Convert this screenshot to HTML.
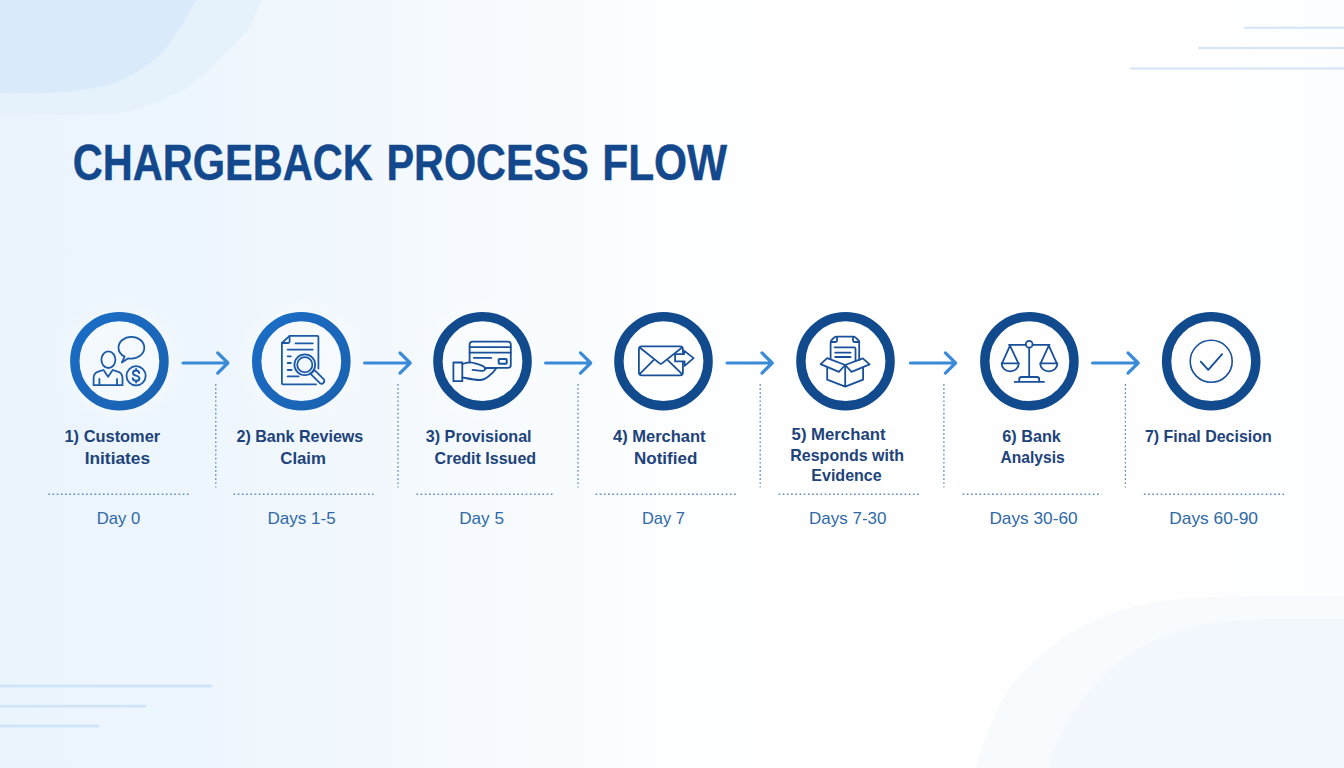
<!DOCTYPE html>
<html lang="en">
<head>
<meta charset="utf-8">
<title>Chargeback Process Flow</title>
<style>
html,body{margin:0;padding:0;width:1344px;height:768px;overflow:hidden;background:#f6fafe;}
svg{display:block;position:absolute;left:0;top:0;}
text{font-family:"Liberation Sans",sans-serif;}
.t{font-weight:bold;fill:#13488c;font-size:49.6px;stroke:#13488c;stroke-width:0.4;}
.l{font-weight:bold;fill:#1d437a;font-size:17px;}
.d{fill:#2f69a6;font-size:17px;}
.ic{fill:none;stroke:#1d5aa6;stroke-width:1.8;stroke-linecap:round;stroke-linejoin:round;}
.dot{stroke:#628fc0;stroke-width:1.4;stroke-dasharray:1.7 2.5;fill:none;}
.vdot{stroke:#5f87b6;stroke-width:1.3;stroke-dasharray:1.7 2.4;}
.ar{fill:none;stroke:#3b8ad8;stroke-width:3.2;stroke-linecap:round;stroke-linejoin:round;}
</style>
</head>
<body>
<svg width="1344" height="768" viewBox="0 0 1344 768">
<defs>
<linearGradient id="bg" x1="0" y1="0" x2="1" y2="0">
<stop offset="0" stop-color="#eaf4fd"/>
<stop offset="0.22" stop-color="#f0f7fd"/>
<stop offset="0.47" stop-color="#fbfdff"/>
<stop offset="0.58" stop-color="#ffffff"/>
<stop offset="0.9" stop-color="#fefeff"/>
<stop offset="1" stop-color="#fbfdff"/>
</linearGradient>
<linearGradient id="r1" x1="0" y1="0" x2="1" y2="1">
<stop offset="0" stop-color="#1b6dc6"/>
<stop offset="1" stop-color="#1a62b0"/>
</linearGradient>
<radialGradient id="glow">
<stop offset="0" stop-color="#ffffff" stop-opacity="0.45"/>
<stop offset="0.6" stop-color="#ffffff" stop-opacity="0.4"/>
<stop offset="1" stop-color="#ffffff" stop-opacity="0"/>
</radialGradient>
</defs>
<!-- BACKGROUND -->
<rect id="bgrect" width="1344" height="768" fill="url(#bg)"/>
<g id="decor">
<!-- top-left blobs -->
<path d="M0,116 C14.8,115.8 66.7,115.6 89,114.6 C111.3,113.6 118.1,114.2 134,110 C149.9,105.8 170.2,97.7 184.5,89.3 C198.8,80.9 209.6,69.4 220,59.5 C230.4,49.6 240.0,39.7 247,29.8 C254.0,19.9 259.5,5.0 262,0 L0,0 Z" fill="#e5f1fb"/>
<path d="M0,92.9 C9.9,92.8 40.7,93.9 59.5,92.3 C78.3,90.7 97.1,88.8 113,83.3 C128.9,77.8 143.9,68.4 154.8,59.5 C165.7,50.6 171.7,39.7 178.6,29.8 C185.5,19.9 193.1,5.0 196,0 L0,0 Z" fill="#d9ebfa"/>
<!-- bottom-right blobs -->
<path d="M1344,596 C1330.5,596.0 1293.0,595.2 1263,596 C1233.0,596.8 1191.5,597.2 1164,601 C1136.5,604.8 1117.2,611.0 1098,619 C1078.8,627.0 1063.8,637.3 1049,649 C1034.2,660.7 1020.0,673.0 1009,689 C998.0,705.0 988.5,731.8 983,745 C977.5,758.2 977.2,764.2 976,768 L1344,768 Z" fill="#f7fbfe"/>
<path d="M1344,619 C1325.0,619.3 1260.0,618.2 1230,621 C1200.0,623.8 1183.2,628.7 1164,636 C1144.8,643.3 1129.3,653.5 1115,665 C1100.7,676.5 1088.0,691.7 1078,705 C1068.0,718.3 1059.8,734.5 1055,745 C1050.2,755.5 1050.0,764.2 1049,768 L1344,768 Z" fill="#f2f8fe"/>
<!-- top-right lines -->
<g stroke="#d2e4f5" stroke-width="2" stroke-linecap="round">
<line x1="1245" y1="27.8" x2="1344" y2="27.8"/>
<line x1="1199" y1="48.1" x2="1344" y2="48.1"/>
<line x1="1131" y1="68.5" x2="1344" y2="68.5"/>
</g>
<!-- bottom-left lines -->
<g stroke="#d0e6f8" stroke-width="2.8" stroke-linecap="round">
<line x1="0" y1="686" x2="211" y2="686"/>
<line x1="0" y1="706.1" x2="145" y2="706.1"/>
<line x1="0" y1="726" x2="98" y2="726"/>
</g>
</g>
<g id="glows">
<circle cx="119.4" cy="361.2" r="66" fill="url(#glow)"/>
<circle cx="301.3" cy="361.2" r="66" fill="url(#glow)"/>
<circle cx="482.5" cy="361.2" r="66" fill="url(#glow)"/>
<circle cx="663.5" cy="361.2" r="66" fill="url(#glow)"/>
<circle cx="845.5" cy="361.2" r="66" fill="url(#glow)"/>
<circle cx="1029.4" cy="361.2" r="66" fill="url(#glow)"/>
<circle cx="1211.2" cy="361.2" r="66" fill="url(#glow)"/>
</g>
<g id="title">
<text class="t" x="72.8" y="179.8" textLength="300" lengthAdjust="spacingAndGlyphs">CHARGEBACK</text>
<text class="t" x="386.4" y="179.8" textLength="202.4" lengthAdjust="spacingAndGlyphs">PROCESS</text>
<text class="t" x="602.2" y="179.8" textLength="125" lengthAdjust="spacingAndGlyphs">FLOW</text>
</g>
<g id="rings" fill="none" stroke-width="9.4">
<circle cx="119.4" cy="361.2" r="44.6" stroke="url(#r1)"/>
<circle cx="301.3" cy="361.2" r="44.6" stroke="url(#r1)"/>
<circle cx="482.5" cy="361.2" r="44.6" stroke="#114a8d"/>
<circle cx="663.5" cy="361.2" r="44.6" stroke="#114a8d"/>
<circle cx="845.5" cy="361.2" r="44.6" stroke="#114a8d"/>
<circle cx="1029.4" cy="361.2" r="44.6" stroke="#114a8d"/>
<circle cx="1211.2" cy="361.2" r="44.6" stroke="#114a8d"/>
</g>
<g id="arrows" class="ar">
<path d="M183.0,363 H227.7 M217.7,352.9 L227.9,363 L217.7,373.1"/>
<path d="M364.6,363 H410.0 M400.0,352.9 L410.2,363 L400.0,373.1"/>
<path d="M545.6,363 H590.5 M580.5,352.9 L590.7,363 L580.5,373.1"/>
<path d="M727.1,363 H772.0 M762.0,352.9 L772.2,363 L762.0,373.1"/>
<path d="M910.4,363 H955.4 M945.4,352.9 L955.6,363 L945.4,373.1"/>
<path d="M1092.6,363 H1138.0 M1128.0,352.9 L1138.2,363 L1128.0,373.1"/>
</g>
<g id="dots" class="dot">
<line class="vdot" x1="215.8" y1="384" x2="215.8" y2="487.5"/>
<line class="vdot" x1="398" y1="384" x2="398" y2="487.5"/>
<line class="vdot" x1="578" y1="384" x2="578" y2="487.5"/>
<line class="vdot" x1="760.2" y1="384" x2="760.2" y2="487.5"/>
<line class="vdot" x1="943.9" y1="384" x2="943.9" y2="487.5"/>
<line class="vdot" x1="1125.4" y1="384" x2="1125.4" y2="487.5"/>
<line x1="48.3" y1="494.2" x2="191" y2="494.2"/>
<line x1="233.5" y1="494.2" x2="373.5" y2="494.2"/>
<line x1="416.4" y1="494.2" x2="553.6" y2="494.2"/>
<line x1="595.5" y1="494.2" x2="736" y2="494.2"/>
<line x1="778.5" y1="494.2" x2="919.1" y2="494.2"/>
<line x1="962.6" y1="494.2" x2="1101.4" y2="494.2"/>
<line x1="1143.9" y1="494.2" x2="1284" y2="494.2"/>
</g>
<g id="icons" class="ic">
<!-- 1: customer + speech + dollar -->
<g id="ic1">
<ellipse cx="108.4" cy="359.7" rx="7" ry="8.3"/>
<path d="M93.6,385.2 V378 C93.6,374 96,372.2 99,371.4 L103.5,370 L108.1,376.8 L112.7,370 L117,371.4 C120,372.2 122.5,374 122.5,378 V385.2 Z"/>
<path d="M99.4,379 V385.2 M117,379 V385.2"/>
<path d="M124.6,356.6 C120.6,354.6 118.5,351.4 118.5,347.7 C118.5,341.7 124.3,336.8 131.4,336.8 C138.5,336.8 144.3,341.7 144.3,347.7 C144.3,353.7 138.5,358.6 131.4,358.6 C130.3,358.6 129.3,358.5 128.3,358.3 L121.8,362.6 Z"/>
<circle cx="136.1" cy="375.8" r="9.6"/>
</g>
<!-- 2: document + magnifier -->
<g id="ic2">
<path d="M318.4,368.6 V337 Q318.4,335.9 317.3,335.9 H289.6 L281.9,343 V383.3 Q281.9,384.4 283,384.4 H316"/>
<path d="M289.6,335.9 V341.5 Q289.6,343 288.1,343 H281.9"/>
<path d="M295.5,343.4 H312.7 M287.7,349.7 H312.7 M287.7,356.3 H290.8 M287.7,363 H290.8 M287.7,370 H291.6 M287.7,376.4 H298.6"/>
<circle cx="304.8" cy="364.8" r="10.4" fill="#f3f8fd"/>
<circle cx="304.8" cy="364.8" r="7.6"/>
<path d="M312.6,372 L314.6,370.1 L323.9,379.4 Q325,381.4 323.4,383 Q321.8,384.4 319.9,383.2 L310.6,373.9 Z" fill="#f3f8fd"/>
</g>
<!-- 3: hand + card -->
<g id="ic3" stroke="#19509a">
<path d="M469.6,362.6 V344.6 Q469.6,341.6 472.6,341.6 H507.8 Q510.8,341.6 510.8,344.6 V364.9 Q510.8,367.9 507.8,367.9 H486"/>
<path d="M469.6,347.1 H510.8 M469.6,352.6 H510.8 M473.9,357.9 H491.3"/>
<rect x="498.7" y="359" width="8" height="4.8" rx="0.8" stroke-width="2"/>
<rect x="453.4" y="362.5" width="8.9" height="18.7"/>
<path d="M462.4,364 C465,362.9 468,362.1 470.5,362.4 C474,362.9 478,364.2 481.3,365.3 C484,366.2 485.3,367.4 485.1,368.8 C484.8,370.5 483.5,371 481.5,370.8 L472.5,369.8"/>
<path d="M485,368.7 C486,368.3 487,368.2 488,368.2 H496.3 C494,371.5 492,373.6 489,376 C486,378.5 483.5,380 480,380 C474,380 468,378.5 462.4,377.4"/>
</g>
<!-- 4: envelope + arrow -->
<g id="ic4" stroke="#19509a">
<rect x="638.9" y="346.4" width="44" height="29" rx="2.8"/>
<path d="M640,347.7 L659.6,363.4 Q660.8,364.4 662,363.4 L681.8,347.7"/>
<path d="M640.1,373.6 L653.6,360.2 M681.6,373.6 L668,360.4"/>
<path d="M675.1,354.2 H684 V350.6 L693.6,358.1 L684.6,365.9 V361.4 H675.1 Z" fill="#fdfeff"/>
</g>
<!-- 5: box + document -->
<g id="ic5" stroke="#19509a">
<path d="M830.6,359.2 V342.8 Q830.8,340.6 832.4,339.2 L834.4,337.4 Q835.4,336.6 836.8,336.6 H853.2 Q854.4,336.6 855.4,337.4 L859.2,341.2 V360"/>
<path d="M837,336.8 V340.6 Q837,342 835.6,342 H831.4 M853,336.8 V340.6 Q853,342 854.4,342 H858.8"/>
<path d="M834.6,347.4 H854 Q855.5,347.4 855.5,348.9 V361.2"/>
<path d="M835.2,352.6 H850.6 M835.2,357 H850.6"/>
<path d="M820.6,364.1 L827.2,358.1 L845.2,365 L838.9,371.9 Z"/>
<path d="M845.2,365 L862.8,358.3 L869.6,364.4 L851.5,371.9 Z"/>
<path d="M827.2,367.4 V379.7 L845.2,386.7 L863.1,379.7 V367.4 M845.2,365 V386.7"/>
</g>
<!-- 6: scales -->
<g id="ic6" stroke="#19509a">
<path d="M1009,344.8 H1025.8 M1032.6,344.8 H1049.6"/>
<circle cx="1029.2" cy="344.2" r="3.4"/>
<path d="M1029.2,347.7 V376.8"/>
<path d="M1019.2,381.4 V379.4 Q1019.2,377 1021.6,377 H1036.8 Q1039.2,377 1039.2,379.4 V381.4"/>
<path d="M1014.6,381.8 H1044"/>
<path d="M1010,345.6 L1002,363.4 M1010,345.6 L1018.4,363.4"/>
<path d="M1001.6,363.4 H1018.8 C1018.8,368.2 1014.8,371.4 1010.2,371.4 C1005.6,371.4 1001.6,368.2 1001.6,363.4 Z"/>
<path d="M1048.8,345.6 L1040.6,363.4 M1048.8,345.6 L1056.8,363.4"/>
<path d="M1040.2,363.4 H1057.4 C1057.4,368.2 1053.4,371.4 1048.8,371.4 C1044.2,371.4 1040.2,368.2 1040.2,363.4 Z"/>
</g>
<!-- 7: check -->
<g id="ic7" stroke="#19509a" stroke-width="1.6">
<circle cx="1211.2" cy="361.3" r="21"/>
<path d="M1200.7,361.7 L1208.3,369.8 L1222.1,354.2" stroke-width="1.9"/>
</g>
</g>
<path d="M139.2,373 C138.9,371.4 137.7,370.5 136.1,370.5 C134.3,370.5 133,371.5 133,373 C133,374.5 134.1,375.1 136.1,375.7 C138.3,376.3 139.4,377 139.4,378.4 C139.4,379.9 138,380.8 136.1,380.8 C134.3,380.8 133,379.9 132.7,378.3 M136.1,368.9 V370.5 M136.1,380.8 V382.4" fill="none" stroke="#1d5aa6" stroke-width="1.9" stroke-linecap="round" stroke-linejoin="round"/>
<g id="labels">
<text class="l" x="64.5" y="442.3" textLength="95.7" lengthAdjust="spacingAndGlyphs">1) Customer</text>
<text class="l" x="84.7" y="463.8" textLength="65.4" lengthAdjust="spacingAndGlyphs">Initiates</text>
<text class="l" x="236.5" y="442.3" textLength="126.8" lengthAdjust="spacingAndGlyphs">2) Bank Reviews</text>
<text class="l" x="280.3" y="463.8" textLength="45.6" lengthAdjust="spacingAndGlyphs">Claim</text>
<text class="l" x="425.8" y="442.2" textLength="105.8" lengthAdjust="spacingAndGlyphs">3) Provisional</text>
<text class="l" x="434.6" y="463.7" textLength="101.5" lengthAdjust="spacingAndGlyphs">Credit Issued</text>
<text class="l" x="613.0" y="442.2" textLength="92.6" lengthAdjust="spacingAndGlyphs">4) Merchant</text>
<text class="l" x="634.0" y="463.7" textLength="63.3" lengthAdjust="spacingAndGlyphs">Notified</text>
<text class="l" x="791.6" y="439.8" textLength="93.9" lengthAdjust="spacingAndGlyphs">5) Merchant</text>
<text class="l" x="790.3" y="461" textLength="113.7" lengthAdjust="spacingAndGlyphs">Responds with</text>
<text class="l" x="811.3" y="481.3" textLength="70.4" lengthAdjust="spacingAndGlyphs">Evidence</text>
<text class="l" x="1002.3" y="441.8" textLength="58.6" lengthAdjust="spacingAndGlyphs">6) Bank</text>
<text class="l" x="1000.5" y="463.2" textLength="64.3" lengthAdjust="spacingAndGlyphs">Analysis</text>
<text class="l" x="1144.9" y="441.8" textLength="126.8" lengthAdjust="spacingAndGlyphs">7) Final Decision</text>
<text class="d" x="96.7" y="523.5" textLength="43.5" lengthAdjust="spacingAndGlyphs">Day 0</text>
<text class="d" x="267.4" y="523.5" textLength="68.3" lengthAdjust="spacingAndGlyphs">Days 1-5</text>
<text class="d" x="459.2" y="523.5" textLength="44.8" lengthAdjust="spacingAndGlyphs">Day 5</text>
<text class="d" x="641.9" y="523.5" textLength="42.9" lengthAdjust="spacingAndGlyphs">Day 7</text>
<text class="d" x="809.0" y="523.5" textLength="77.5" lengthAdjust="spacingAndGlyphs">Days 7-30</text>
<text class="d" x="989.4" y="523.5" textLength="88.2" lengthAdjust="spacingAndGlyphs">Days 30-60</text>
<text class="d" x="1169.2" y="523.5" textLength="88.8" lengthAdjust="spacingAndGlyphs">Days 60-90</text>
</g>
</svg>
</body>
</html>
